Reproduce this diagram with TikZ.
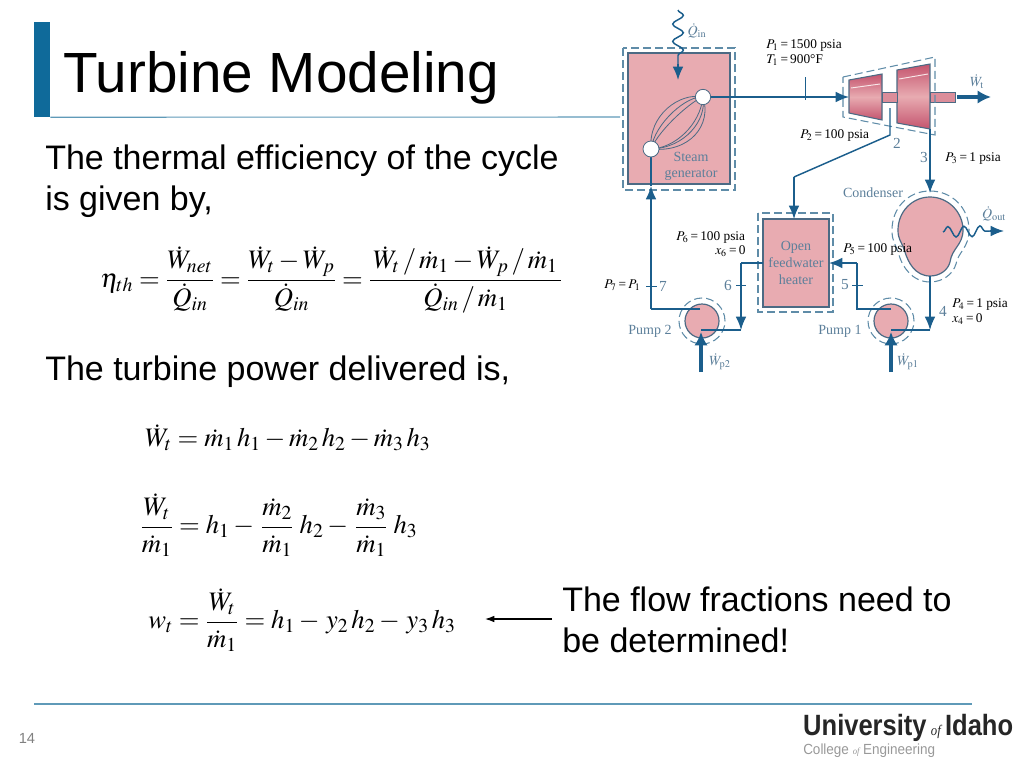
\documentclass[tikz,border=0pt]{standalone}
\usepackage{amsmath}
\usepackage{mathptmx}
\usepackage[no-math]{fontspec}
\setmainfont{Liberation Sans}
\newfontfamily\figfont{Liberation Serif}
\usepackage{tikz}
\usetikzlibrary{arrows.meta}
\usetikzlibrary{decorations.pathmorphing}
\pgfdeclarelayer{edgelayer}
\pgfdeclarelayer{nodelayer}
\pgfsetlayers{nodelayer,edgelayer,main}
\definecolor{flowblue}{HTML}{1B5E8C}
\definecolor{barblue}{HTML}{0F6A9A}
\definecolor{ruleblue}{HTML}{5F9AB8}
\definecolor{dashblue}{HTML}{5F8CA8}
\definecolor{edgeblue}{HTML}{4C6A84}
\definecolor{labelblue}{HTML}{5C7F9A}
\definecolor{pinkfill}{HTML}{E8ABB1}
\definecolor{pinkdark}{HTML}{C4546E}
\tikzstyle{none}=[inner sep=0pt]
\tikzstyle{slidetext}=[inner sep=0pt,anchor=base west,font=\fontsize{25.5}{28}\selectfont,align=left]
\tikzstyle{eqn}=[inner sep=0pt,anchor=west,font=\fontsize{20}{24}\selectfont]
\tikzstyle{black label}=[inner sep=0pt,anchor=base west,font=\figfont\fontsize{10}{11}\selectfont]
\tikzstyle{blue label}=[inner sep=0pt,text=labelblue,font=\figfont\fontsize{10.5}{12}\selectfont,align=center]
\tikzstyle{state number}=[inner sep=0pt,text=labelblue,font=\figfont\fontsize{11.5}{12}\selectfont]
\tikzstyle{unit}=[draw=edgeblue,fill=pinkfill,line width=0.9pt,inner sep=0pt]
\tikzstyle{envelope}=[draw=dashblue,line width=0.8pt,dash pattern=on 6pt off 3pt]
\tikzstyle{flow}=[draw=flowblue,line width=1.1pt]
\tikzstyle{flow arrow}=[flow,-{Latex[length=10pt,width=8pt]}]
\tikzstyle{work arrow}=[draw=flowblue,line width=3pt,-{Latex[length=10pt,width=10pt]}]
\tikzstyle{tick}=[draw=flowblue,line width=0.6pt]
\tikzstyle{tube}=[draw=edgeblue,line width=0.6pt]
\tikzstyle{heat}=[draw=flowblue,line width=1.1pt,decorate]
\begin{document}
\begin{tikzpicture}[x=0.75pt,y=-0.75pt]
	\useasboundingbox (0,0) rectangle (1024,768);
	\begin{pgfonlayer}{nodelayer}
		% units
		\node [style=unit,minimum width=76.5pt,minimum height=98.25pt] (generator) at (679,118.5) {};
		\node [style=unit,minimum width=49.5pt,minimum height=66pt] (heater) at (796,263) {};
		\node [style=unit,circle,minimum size=25.5pt] (pump2) at (702,321) {};
		\node [style=unit,circle,minimum size=25.5pt] (pump1) at (891,321) {};
		\draw [style=unit] (930,197) .. controls (948,197) and (963,212) .. (963,230) .. controls (963,245) and (952,248) .. (950,262) .. controls (948,270) and (940,276) .. (930,276) .. controls (915,276) and (908,262) .. (905,252) .. controls (901,240) and (898,240) .. (898,230) .. controls (898,212) and (912,197) .. (930,197) -- cycle;
		% turbine
		\draw [draw=edgeblue,line width=0.8pt,top color=pinkdark,bottom color=pinkdark,middle color=pinkfill] (849,80) -- (882,74) -- (882,120) -- (849,113) -- cycle;
		\draw [draw=edgeblue,line width=0.8pt,top color=pinkdark,bottom color=pinkdark,middle color=pinkfill] (897,70) -- (930,64) -- (930,129) -- (897,123) -- cycle;
		\draw [draw=edgeblue,line width=0.6pt,fill=pinkdark!35!pinkfill] (882,92) rectangle (897,102);
		\draw [draw=edgeblue,line width=0.6pt,fill=pinkdark!35!pinkfill] (930,92) rectangle (955,102);
		\draw [draw=white!70!pinkfill,line width=0.7pt] (851,88) -- (880,84);
		\draw [draw=white!70!pinkfill,line width=0.7pt] (899,79) -- (928,74);
		% control surfaces
		\draw [style=envelope] (623,48) rectangle (735,190);
		\draw [style=envelope] (758,213) rectangle (833,312);
		\draw [style=envelope] (843,77) -- (935,57) -- (935,135) -- (843,117) -- cycle;
		\draw [style=envelope] (pump2) circle (17.25pt);
		\draw [style=envelope] (pump1) circle (17.25pt);
		\draw [style=envelope] (930,191) .. controls (952,191) and (969,208) .. (969,230) .. controls (969,248) and (958,252) .. (956,264) .. controls (953,274) and (943,282) .. (930,282) .. controls (912,282) and (902,266) .. (899,255) .. controls (895,242) and (892,242) .. (892,230) .. controls (892,208) and (908,191) .. (930,191) -- cycle;
	\end{pgfonlayer}
	\begin{pgfonlayer}{edgelayer}
		\node [style=none] (top joint) at (703,97) {};
		\node [style=none] (low joint) at (651,149) {};
		\node [style=none] (generator in) at (651,186) {};
		\node [style=none] (turbine in) at (849,97) {};
		\node [style=none] (bleed) at (890,108) {};
		\node [style=none] (bleed bend) at (890,135) {};
		\node [style=none] (bleed knee) at (794,177) {};
		\node [style=none] (heater top) at (794,219) {};
		\node [style=none] (turbine out) at (930,129) {};
		\node [style=none] (cond top) at (930,193) {};
		\node [style=none] (cond low) at (930,276) {};
		\node [style=none] (cond knee) at (930,330) {};
		\node [style=none] (p1 in) at (891,330) {};
		\node [style=none] (p1 out) at (891,309) {};
		\node [style=none] (knee5a) at (857,309) {};
		\node [style=none] (knee5b) at (857,263) {};
		\node [style=none] (heater right) at (829,263) {};
		\node [style=none] (heater left) at (763,263) {};
		\node [style=none] (knee6a) at (741,263) {};
		\node [style=none] (knee6b) at (741,330) {};
		\node [style=none] (p2 in) at (701,330) {};
		\node [style=none] (p2 out) at (700,309) {};
		\node [style=none] (knee7) at (651,309) {};
		\node [style=none] (wt from) at (957,97) {};
		\node [style=none] (wt to) at (991,97) {};
		\node [style=none] (wp2 from) at (701,372) {};
		\node [style=none] (wp2 to) at (701,332) {};
		\node [style=none] (wp1 from) at (891,372) {};
		\node [style=none] (wp1 to) at (891,332) {};
		\node [style=none] (qin from) at (678,10) {};
		\node [style=none] (qin mid) at (678,64) {};
		\node [style=none] (qin to) at (678,80) {};
		\node [style=none] (qout from) at (943,232) {};
		\node [style=none] (qout mid) at (990,231) {};
		\node [style=none] (qout to) at (1004,231) {};
		\node [style=none] (tick1a) at (805,77) {};
		\node [style=none] (tick1b) at (805,100) {};
		\node [style=none] (tick5a) at (852,285) {};
		\node [style=none] (tick5b) at (863,285) {};
		\node [style=none] (tick6a) at (736,285) {};
		\node [style=none] (tick6b) at (746,285) {};
		\node [style=none] (tick7a) at (646,286) {};
		\node [style=none] (tick7b) at (657,286) {};
		\draw [style=flow arrow] (top joint.center) to (turbine in.center);
		\draw [style=flow] (bleed.center) to (bleed bend.center) to (bleed knee.center);
		\draw [style=flow arrow] (bleed knee.center) to (heater top.center);
		\draw [style=flow arrow] (turbine out.center) to (cond top.center);
		\draw [style=flow arrow] (cond low.center) to (cond knee.center);
		\draw [style=flow] (cond knee.center) to (p1 in.center);
		\draw [style=flow] (p1 out.center) to (knee5a.center) to (knee5b.center);
		\draw [style=flow arrow] (knee5b.center) to (heater right.center);
		\draw [style=flow] (heater left.center) to (knee6a.center);
		\draw [style=flow arrow] (knee6a.center) to (knee6b.center);
		\draw [style=flow] (knee6b.center) to (p2 in.center);
		\draw [style=flow] (p2 out.center) to (knee7.center);
		\draw [style=flow arrow] (knee7.center) to (generator in.center);
		\draw [style=flow] (generator in.center) to (low joint.center);
		\draw [style=work arrow] (wt from.center) to (wt to.center);
		\draw [style=work arrow] (wp2 from.center) to (wp2 to.center);
		\draw [style=work arrow] (wp1 from.center) to (wp1 to.center);
		\draw [style=heat,decoration={snake,amplitude=4pt,segment length=13pt}] (qin from.center) to (qin mid.center);
		\draw [style=flow arrow] (qin mid.center) to (qin to.center);
		\draw [style=heat,decoration={snake,amplitude=4pt,segment length=12pt}] (qout from.center) to (qout mid.center);
		\draw [style=flow arrow] (qout mid.center) to (qout to.center);
		\draw [style=tick] (tick1a.center) to (tick1b.center);
		\draw [style=tick] (tick5a.center) to (tick5b.center);
		\draw [style=tick] (tick6a.center) to (tick6b.center);
		\draw [style=tick] (tick7a.center) to (tick7b.center);
		\draw [style=tube] (low joint.center) .. controls (648,115) and (680,92) .. (top joint.center);
		\draw [style=tube] (low joint.center) .. controls (655,122) and (688,95) .. (top joint.center);
		\draw [style=tube] (low joint.center) .. controls (660,128) and (693,100) .. (top joint.center);
		\draw [style=tube] (low joint.center) .. controls (675,148) and (700,125) .. (top joint.center);
		\draw [style=tube] (low joint.center) .. controls (685,148) and (707,120) .. (top joint.center);
		\draw [style=tube] (low joint.center) .. controls (690,153) and (712,125) .. (top joint.center);
	\end{pgfonlayer}
	% joints
	\node [circle,draw=edgeblue,fill=white,line width=0.6pt,inner sep=0pt,minimum size=11.5pt] (top ring) at (top joint) {};
	\node [circle,draw=edgeblue,fill=white,line width=0.6pt,inner sep=0pt,minimum size=12pt] (low ring) at (low joint) {};
	% slide
	\node [fill=barblue,inner sep=0pt,minimum width=12pt,minimum height=71.25pt] (bar) at (42,69.5) {};
	\node [style=none] (title rule) at (620,117) {};
	\draw [draw=ruleblue,line width=0.8pt] (bar.south east) to (title rule.center);
	\node [style=none] (foot left) at (34,704) {};
	\node [style=none] (foot right) at (972,704) {};
	\draw [draw=ruleblue,line width=0.9pt] (foot left.center) to (foot right.center);
	\node [inner sep=0pt,anchor=base west,font=\fontsize{42.5}{46}\selectfont] (title) at (63,92) {Turbine Modeling};
	\node [style=slidetext] (text1) at (45,169) {The thermal efficiency of the cycle};
	\node [style=slidetext] (text2) at (45,210) {is given by,};
	\node [style=slidetext] (text3) at (45,380) {The turbine power delivered is,};
	\node [style=slidetext] (text4) at (562,611) {The flow fractions need to};
	\node [style=slidetext] (text5) at (562,652) {be determined!};
	\node [style=eqn] (eqn eta) at (100,280) {$\displaystyle \eta_{th}=\frac{\dot W_{net}}{\dot Q_{in}}=\frac{\dot W_t-\dot W_p}{\dot Q_{in}}=\frac{\,\dot W_t\,/\,\dot m_1-\dot W_p\,/\,\dot m_1\,}{\dot Q_{in}\,/\,\dot m_1}$};
	\node [style=eqn] (eqn power) at (145,438) {$\dot W_t=\dot m_1\,h_1-\dot m_2\,h_2-\dot m_3\,h_3$};
	\node [style=eqn] (eqn ratio) at (140,525) {$\displaystyle \frac{\dot W_t}{\dot m_1}=h_1-\,\frac{\dot m_2}{\dot m_1}\;h_2-\,\frac{\dot m_3}{\dot m_1}\;h_3$};
	\node [style=eqn] (eqn work) at (148,620) {$\displaystyle w_t=\frac{\dot W_t}{\dot m_1}=h_1-\,y_2\,h_2-\,y_3\,h_3$};
	\node [style=none] (note start) at (552,619) {};
	\node [style=none] (note end) at (485,619) {};
	\draw [-{Latex[length=7pt,width=5pt]},line width=0.9pt] (note start.center) to (note end.center);
	\node [inner sep=0pt,text=gray,font=\fontsize{11}{12}\selectfont] (page) at (27,738) {14};
	\node [inner sep=0pt,anchor=base west,text=black!85,font=\bfseries\fontsize{22}{24}\selectfont,xscale=0.87,transform shape] (logo) at (803,735) {University\,{\figfont\itshape\mdseries\fontsize{11}{11}\selectfont of}\,Idaho};
	\node [inner sep=0pt,anchor=base west,text=gray!80,font=\fontsize{11}{12}\selectfont,xscale=0.92,transform shape] (college) at (803,754) {College {\figfont\itshape\fontsize{7}{7}\selectfont of} Engineering};
	% cycle labels
	\node [style=black label] (state1a) at (766,48) {$P_1$\,=\,1500 psia};
	\node [style=black label] (state1b) at (766,63) {$T_1$\,=\,900°F};
	\node [style=black label] (state2) at (800,138) {$P_2$\,=\,100 psia};
	\node [style=black label] (state3) at (945,161) {$P_3$\,=\,1 psia};
	\node [style=black label] (state6a) at (676,240) {$P_6$\,=\,100 psia};
	\node [style=black label] (state6b) at (715,254) {$x_6$\,=\,0};
	\node [style=black label] (state5) at (843,252) {$P_5$\,=\,100 psia};
	\node [style=black label] (state7) at (604,288) {$P_7$\,=\,$P_1$};
	\node [style=black label] (state4a) at (952,307) {$P_4$\,=\,1 psia};
	\node [style=black label] (state4b) at (952,322) {$x_4$\,=\,0};
	\node [style=state number] (num2) at (897,143) {2};
	\node [style=state number] (num3) at (924,157) {3};
	\node [style=state number] (num4) at (943,311) {4};
	\node [style=state number] (num5) at (845,285) {5};
	\node [style=state number] (num6) at (728,285) {6};
	\node [style=state number] (num7) at (663,286) {7};
	\node [style=blue label] (steam) at (691,166) {Steam\\generator};
	\node [style=blue label] (open) at (796,263) {Open\\[1pt]feedwater\\[1pt]heater};
	\node [style=blue label] (cond) at (873,193) {Condenser};
	\node [style=blue label] (pump two) at (650,331) {Pump 2};
	\node [style=blue label] (pump one) at (840,331) {Pump 1};
	\node [style=blue label] (qin) at (697,31) {$\dot Q_{\mathrm{in}}$};
	\node [style=blue label] (qout) at (994,214) {$\dot Q_{\mathrm{out}}$};
	\node [style=blue label] (wt) at (977,82) {$\dot W_{\mathrm{t}}$};
	\node [style=blue label] (wp2) at (720,362) {$\dot W_{\mathrm{p2}}$};
	\node [style=blue label] (wp1) at (908,362) {$\dot W_{\mathrm{p1}}$};
\end{tikzpicture}
\end{document}
